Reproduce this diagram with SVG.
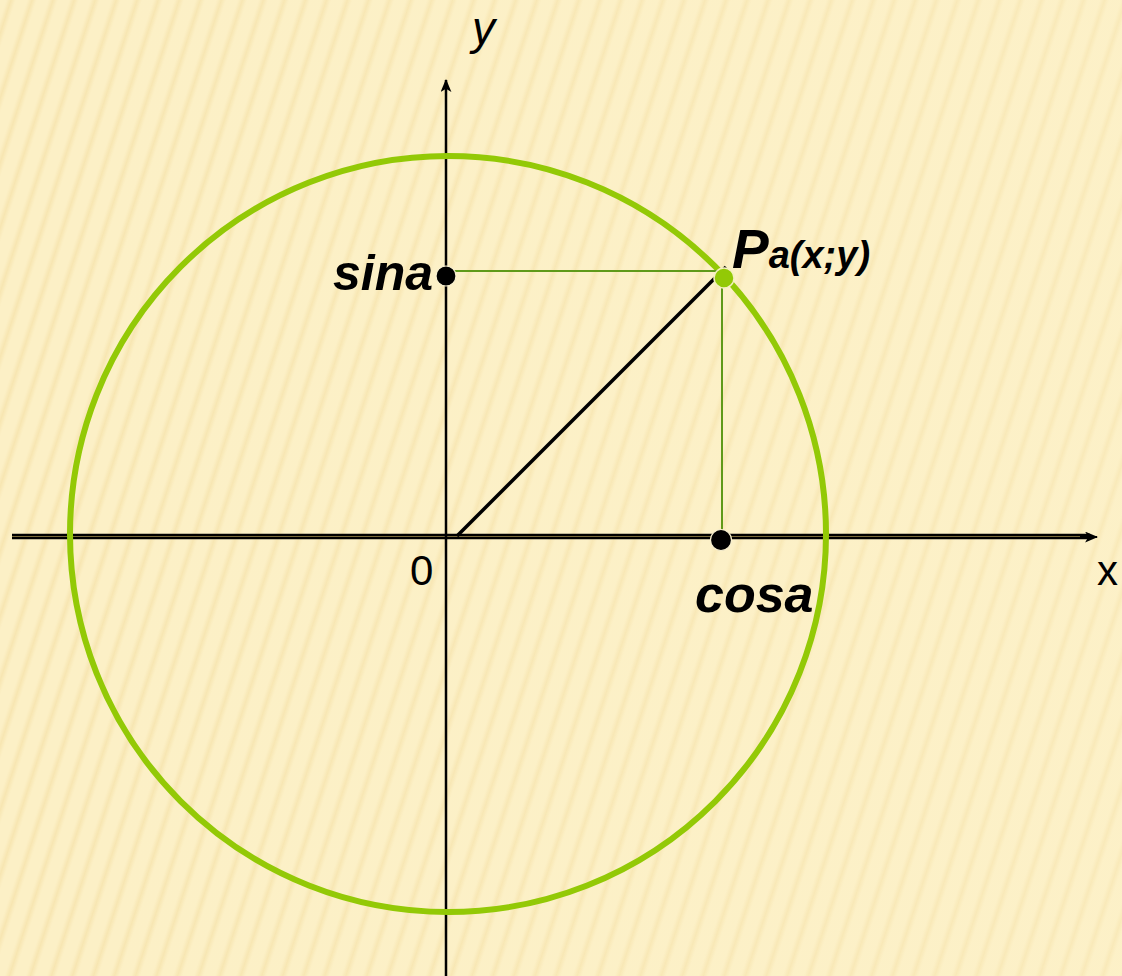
<svg xmlns="http://www.w3.org/2000/svg" width="1122" height="976" viewBox="0 0 1122 976">
<defs>
<linearGradient id="sg" x1="0" y1="0" x2="1" y2="0">
<stop offset="0" stop-color="#fcf0c6"/>
<stop offset="0.5" stop-color="#f4dfa4"/>
<stop offset="1" stop-color="#fcf0c6"/>
</linearGradient>
<pattern id="stripes" width="20" height="40" patternUnits="userSpaceOnUse" patternTransform="rotate(18)">
<rect width="20" height="40" fill="#fcf0c6"/>
<rect x="6" width="9" height="40" fill="url(#sg)" opacity="0.6"/>
</pattern>
<linearGradient id="fade" x1="0" y1="0" x2="1" y2="0">
<stop offset="0" stop-color="#fdf2cb" stop-opacity="0"/>
<stop offset="1" stop-color="#fdf2cb" stop-opacity="0.3"/>
</linearGradient>
<marker id="arr" viewBox="0 0 12 10" refX="11" refY="5" markerWidth="13" markerHeight="11" markerUnits="userSpaceOnUse" orient="auto">
<path d="M0,0 L12,5 L0,10 L3,5 Z" fill="#000"/>
</marker>
</defs>
<style>
.lbl{font-family:"Liberation Sans",Arial,sans-serif;font-weight:bold;font-style:italic;fill:#000}
.ax{stroke:#000;fill:none}
.g{stroke:#5f9a1a;stroke-width:2;fill:none}
</style>
<rect width="1122" height="976" fill="url(#stripes)"/>
<rect width="1122" height="976" fill="url(#fade)"/>
<g id="axes">
<line class="ax" x1="12" y1="536.5" x2="1090" y2="536.5" stroke-width="5.5"/>
<line x1="12" y1="536.5" x2="1090" y2="536.5" stroke="#7a6a3a" stroke-width="1"/>
<line class="ax" x1="1080" y1="537" x2="1097" y2="537" stroke-width="2" marker-end="url(#arr)"/>
<line class="ax" x1="446" y1="976" x2="446" y2="80" stroke-width="2.5" marker-end="url(#arr)"/>
</g>
<g id="circle">
<circle cx="448" cy="534" r="378" fill="none" stroke="#93c906" stroke-width="6"/>
</g>
<g id="connectors">
<line class="g" x1="446" y1="271" x2="722" y2="271"/>
<line class="g" x1="722" y1="278" x2="722" y2="540"/>
<line x1="457" y1="536" x2="726" y2="267" stroke="#000" stroke-width="3.5"/>
</g>
<g id="point-p">
<circle cx="724" cy="278" r="10" fill="#93c906" stroke="#f4f0c0" stroke-width="1.5"/>
<text class="lbl" x="732" y="268" font-size="55">P<tspan font-size="38">a(x;y)</tspan></text>
</g>
<g id="point-sin">
<circle cx="446" cy="276" r="10" fill="#000" stroke="#f8f0d0" stroke-width="1.2"/>
<text class="lbl" x="433" y="290" font-size="50" text-anchor="end">sina</text>
</g>
<g id="point-cos">
<circle cx="721" cy="540" r="10.5" fill="#000" stroke="#f8f0d0" stroke-width="1.2"/>
<text class="lbl" x="695" y="612" font-size="52">cosa</text>
</g>
<g id="labels">
<text x="472" y="44" font-family="Liberation Sans,Arial,sans-serif" font-style="italic" font-size="46" fill="#000">y</text>
<text x="410" y="585" font-family="Liberation Sans,Arial,sans-serif" font-size="42" fill="#000">0</text>
<text x="1097" y="585" font-family="Liberation Sans,Arial,sans-serif" font-size="42" fill="#000">x</text>
</g>
</svg>
